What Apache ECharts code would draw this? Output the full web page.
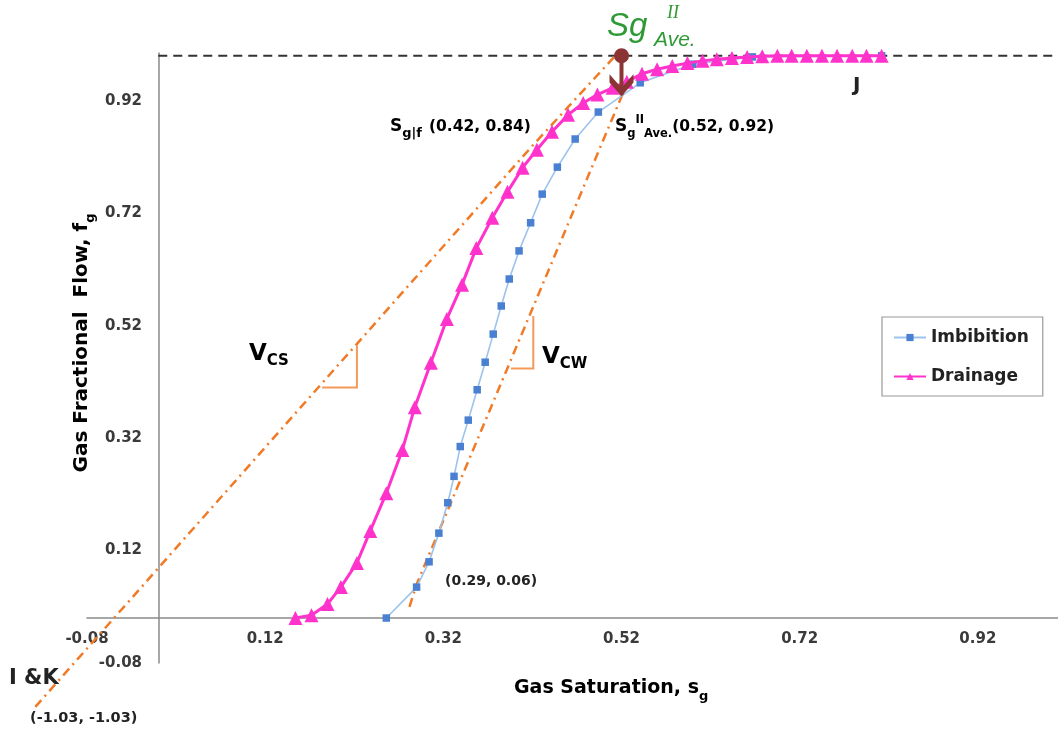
<!DOCTYPE html>
<html>
<head>
<meta charset="utf-8">
<script src="https://cdn.jsdelivr.net/npm/echarts@6/dist/echarts.min.js"></script>
<style>
  html, body { margin: 0; padding: 0; background: #fff; }
  #chart { width: 1058px; height: 736px; }
</style>
</head>
<body>
<div id="chart"></div>
<script>
// Gas fractional flow curves: drainage and imbibition
const sgDrainage = [0.154, 0.172, 0.190, 0.205, 0.223, 0.238, 0.256, 0.274, 0.288, 0.306,
                    0.324, 0.341, 0.357, 0.375, 0.392, 0.409, 0.425, 0.442, 0.460, 0.477,
                    0.493, 0.510, 0.526, 0.543, 0.560, 0.577, 0.594, 0.611, 0.627, 0.644,
                    0.661, 0.678, 0.695, 0.711, 0.728, 0.745, 0.762, 0.779, 0.795, 0.812];
const fgDrainage = [0.000, 0.005, 0.025, 0.055, 0.098, 0.155, 0.222, 0.299, 0.375, 0.454,
                    0.532, 0.593, 0.658, 0.712, 0.758, 0.801, 0.833, 0.865, 0.895, 0.916,
                    0.931, 0.943, 0.954, 0.968, 0.976, 0.982, 0.987, 0.991, 0.994, 0.996,
                    0.998, 0.999, 1.000, 1.000, 1.000, 1.000, 1.000, 1.000, 1.000, 1.000];

const sgImbibition = [0.256, 0.290, 0.304, 0.315, 0.325, 0.332, 0.339, 0.348, 0.358, 0.367,
                      0.376, 0.385, 0.394, 0.405, 0.418, 0.431, 0.448, 0.468, 0.494, 0.541,
                      0.600, 0.667, 0.812];
const fgImbibition = [0.000, 0.055, 0.100, 0.151, 0.205, 0.252, 0.305, 0.352, 0.406, 0.455,
                      0.505, 0.555, 0.603, 0.653, 0.703, 0.754, 0.802, 0.852, 0.900, 0.952,
                      0.985, 0.998, 1.000];

// Tangent constructions (shock velocities)
const tangentDrainage = [[-0.138, -0.158], [0.42, 0.84], [0.513, 1.0]];
const tangentImbibition = [[0.282, 0.02], [0.29, 0.06], [0.521, 0.931]];
const slopeVcs = [[0.184, 0.41], [0.223, 0.41], [0.223, 0.485]];
const slopeVcw = [[0.396, 0.444], [0.421, 0.444], [0.421, 0.537]];
const unitFlow = [[0, 1.0], [1.01, 1.0]];
const sgAverage = [0.52, 1.0];
const sgAverageTip = [0.52, 0.93];

// Axis tick labels
const xTicks = [-0.08, 0.12, 0.32, 0.52, 0.72, 0.92];
const yTicks = [-0.08, 0.12, 0.32, 0.52, 0.72, 0.92];

const FONT = '"DejaVu Sans", Verdana, sans-serif';
const ORANGE = '#f07a26';
const GREEN = '#2f9a35';
const MAROON = '#8a3434';

const zip = (xs, ys) => xs.map((x, i) => [x, ys[i]]);

const chart = echarts.init(document.getElementById('chart'), null, { renderer: 'canvas' });

const tickLabel = {
  fontFamily: FONT, fontWeight: 'bold', fontSize: 15, color: '#3a3a3a',
  formatter: v => v.toFixed(2)
};

// Polyline drawn through the cartesian scales, allowed to run past the plot edge
function guideLine(name, points, style) {
  return {
    name: name, type: 'custom', silent: true, clip: false, z: 2,
    data: [[points[0][0], points[0][1]]],
    renderItem: (params, api) => ({
      type: 'polyline',
      shape: { points: points.map(p => api.coord(p)) },
      style: Object.assign({ fill: null }, style)
    })
  };
}

const dashDot = { stroke: ORANGE, lineWidth: 2.5, lineDash: [9, 5, 2, 5] };
const slopeLeg = { stroke: '#f49a58', lineWidth: 2 };

const option = {
  animation: false,
  backgroundColor: '#ffffff',
  grid: { left: 87, right: 0, top: 53, bottom: 73 },
  xAxis: {
    type: 'value', min: -0.08, max: 1.01,
    splitLine: { show: false },
    axisTick: { show: false },
    axisLine: { onZero: true, lineStyle: { color: '#8a8a8a', width: 1.5 } },
    axisLabel: Object.assign({ customValues: xTicks, margin: -31 }, tickLabel)
  },
  yAxis: {
    type: 'value', min: -0.08, max: 1.005,
    splitLine: { show: false },
    axisTick: { show: false },
    axisLine: { onZero: true, lineStyle: { color: '#8a8a8a', width: 1.5 } },
    axisLabel: Object.assign({ customValues: yTicks, margin: -55 }, tickLabel)
  },
  legend: {
    data: ['Imbibition', 'Drainage'],
    orient: 'vertical',
    left: 882, top: 317,
    padding: [12, 14, 11, 11],
    itemGap: 22,
    itemWidth: 32, itemHeight: 9,
    borderColor: '#9a9a9a', borderWidth: 1.2,
    textStyle: { fontFamily: FONT, fontWeight: 'bold', fontSize: 17, color: '#222' }
  },
  series: [
    {
      name: 'Full flow', type: 'line', data: unitFlow, symbol: 'none', silent: true, clip: false,
      lineStyle: { color: '#333', width: 2, type: [9, 6] }, z: 1
    },
    guideLine('Tangent drainage', tangentDrainage, dashDot),
    guideLine('Tangent imbibition', tangentImbibition, dashDot),
    guideLine('Vcs', slopeVcs, slopeLeg),
    guideLine('Vcw', slopeVcw, slopeLeg),
    {
      name: 'Imbibition', type: 'line', data: zip(sgImbibition, fgImbibition),
      symbol: 'rect', symbolSize: 7.5, clip: false,
      itemStyle: { color: '#4a80d2' },
      lineStyle: { color: '#9cc3ec', width: 1.6 }, z: 3
    },
    {
      name: 'Drainage', type: 'line', data: zip(sgDrainage, fgDrainage),
      symbol: 'triangle', symbolSize: 14, clip: false,
      itemStyle: { color: '#ff33cc' },
      lineStyle: { color: '#ff33cc', width: 3 }, z: 4
    },
    {
      name: 'Average shaft', type: 'line', data: [sgAverage, sgAverageTip], symbol: 'none', silent: true, clip: false,
      lineStyle: { color: MAROON, width: 4 }, z: 6
    },
    {
      name: 'Average dot', type: 'scatter', data: [sgAverage], symbol: 'circle', symbolSize: 15, silent: true, clip: false,
      itemStyle: { color: MAROON, opacity: 1 }, z: 7
    },
    {
      name: 'Average head', type: 'scatter', data: [sgAverageTip], silent: true, clip: false,
      symbol: 'path://M0,0 L12,13 L24,0 L24,8 L12,21 L0,8 Z', symbolSize: [24, 22], symbolOffset: [0, -10],
      itemStyle: { color: MAROON, opacity: 1 }, z: 7
    }
  ],
  graphic: [
    // axis titles
    {
      type: 'text', x: 514, y: 688,
      style: {
        text: '{t|Gas Saturation, s}{s|g}',
        verticalAlign: 'middle',
        rich: {
          t: { fontFamily: FONT, fontWeight: 'bold', fontSize: 19, color: '#222', lineHeight: 30, verticalAlign: 'middle' },
          s: { fontFamily: FONT, fontWeight: 'bold', fontSize: 13, color: '#222', lineHeight: 30, verticalAlign: 'bottom' }
        }
      }
    },
    {
      type: 'text', x: 82, y: 343, rotation: Math.PI / 2,
      style: {
        text: '{t|Gas Fractional  Flow, f}{s|g}',
        align: 'center', verticalAlign: 'middle',
        rich: {
          t: { fontFamily: FONT, fontWeight: 'bold', fontSize: 20, color: '#222', lineHeight: 30, verticalAlign: 'middle' },
          s: { fontFamily: FONT, fontWeight: 'bold', fontSize: 13, color: '#222', lineHeight: 30, verticalAlign: 'bottom' }
        }
      }
    },
    // green average saturation symbol
    { type: 'text', x: 607, y: 27, style: { text: 'Sg', font: 'italic 33px "Liberation Sans"', fill: GREEN, verticalAlign: 'middle' } },
    { type: 'text', x: 667, y: 13, style: { text: 'II', font: 'italic 18px "Liberation Serif"', fill: GREEN, verticalAlign: 'middle' } },
    { type: 'text', x: 654, y: 40, style: { text: 'Ave.', font: 'italic 21px "Liberation Sans"', fill: GREEN, verticalAlign: 'middle' } },
    // point annotations
    {
      type: 'text', x: 390, y: 127,
      style: {
        text: '{m|S}{s|g|f}{t|(0.42, 0.84)}', verticalAlign: 'middle',
        rich: {
          m: { fontFamily: FONT, fontWeight: 'bold', fontSize: 17, color: '#222', lineHeight: 26, verticalAlign: 'middle' },
          s: { fontFamily: FONT, fontWeight: 'bold', fontSize: 13, color: '#222', lineHeight: 26, verticalAlign: 'bottom', padding: [0, 7, 0, 0] },
          t: { fontFamily: FONT, fontWeight: 'bold', fontSize: 15.5, color: '#222', lineHeight: 26, verticalAlign: 'middle' }
        }
      }
    },
    {
      type: 'text', x: 615, y: 127,
      style: {
        text: '{m|S}{s|g}{p|II}{s|Ave.}{t|(0.52, 0.92)}', verticalAlign: 'middle',
        rich: {
          m: { fontFamily: FONT, fontWeight: 'bold', fontSize: 17, color: '#222', lineHeight: 26, verticalAlign: 'middle' },
          s: { fontFamily: FONT, fontWeight: 'bold', fontSize: 11.5, color: '#222', lineHeight: 26, verticalAlign: 'bottom' },
          p: { fontFamily: FONT, fontWeight: 'bold', fontSize: 11.5, color: '#222', lineHeight: 26, verticalAlign: 'top' },
          t: { fontFamily: FONT, fontWeight: 'bold', fontSize: 15.5, color: '#222', lineHeight: 26, verticalAlign: 'middle' }
        }
      }
    },
    { type: 'text', x: 853, y: 86, style: { text: 'J', font: 'bold 20px "DejaVu Sans"', fill: '#222', verticalAlign: 'middle' } },
    {
      type: 'text', x: 249, y: 354,
      style: {
        text: '{v|V}{s|CS}', verticalAlign: 'middle',
        rich: {
          v: { fontFamily: FONT, fontWeight: 'bold', fontSize: 23, color: '#222', lineHeight: 30, verticalAlign: 'middle' },
          s: { fontFamily: FONT, fontWeight: 'bold', fontSize: 15, color: '#222', lineHeight: 30, verticalAlign: 'bottom' }
        }
      }
    },
    {
      type: 'text', x: 542, y: 357,
      style: {
        text: '{v|V}{s|CW}', verticalAlign: 'middle',
        rich: {
          v: { fontFamily: FONT, fontWeight: 'bold', fontSize: 23, color: '#222', lineHeight: 30, verticalAlign: 'middle' },
          s: { fontFamily: FONT, fontWeight: 'bold', fontSize: 15, color: '#222', lineHeight: 30, verticalAlign: 'bottom' }
        }
      }
    },
    { type: 'text', x: 445, y: 581, style: { text: '(0.29, 0.06)', font: 'bold 14px "DejaVu Sans"', fill: '#222', verticalAlign: 'middle' } },
    { type: 'text', x: 9, y: 679, style: { text: 'I &K', font: 'bold 21px "DejaVu Sans"', fill: '#222', verticalAlign: 'middle' } },
    { type: 'text', x: 30, y: 718, style: { text: '(-1.03, -1.03)', font: 'bold 14.5px "DejaVu Sans"', fill: '#222', verticalAlign: 'middle' } }
  ]
};

chart.setOption(option);
</script>
</body>
</html>
